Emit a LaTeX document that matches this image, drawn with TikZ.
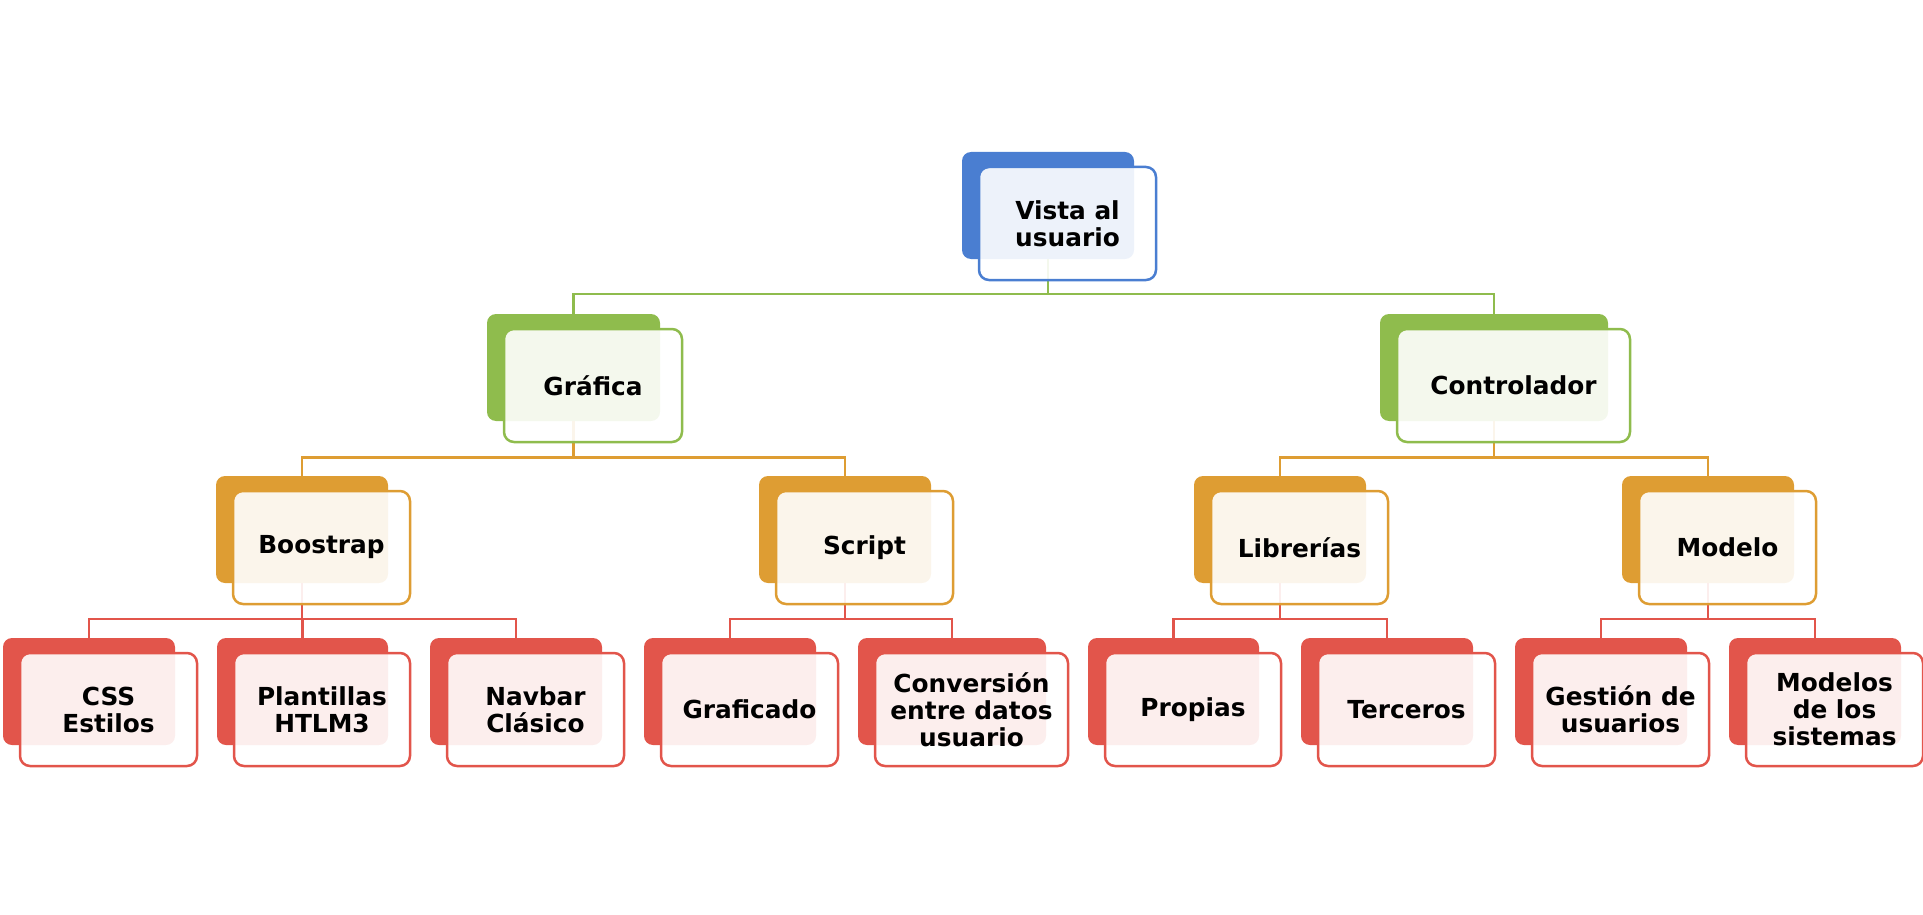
\documentclass[tikz,border=0pt]{standalone}
\usepackage{fontspec}
\setmainfont{DejaVu Sans}
\definecolor{cblue}{HTML}{4A7ED1}
\definecolor{cgreen}{HTML}{8FBC4D}
\definecolor{corange}{HTML}{DE9D33}
\definecolor{cred}{HTML}{E2554B}
\tikzset{
  backbox/.style={draw=none, rounded corners=9pt, minimum height=107pt, inner sep=0pt, outer sep=0pt, anchor=north west},
  frontbox/.style={draw, line width=2.5pt, rounded corners=10pt, fill=white, fill opacity=0.9, text opacity=1,
    minimum height=113pt, inner sep=0pt, outer sep=0pt, anchor=north west, align=center,
    font=\bfseries\fontsize{24.8}{27}\selectfont, text=black},
  conn/.style={line width=2.5pt}
}
\newcommand\BackBox[5]{\node[backbox, fill=#5, minimum width=#4pt] (#1b) at (#2,#3) {};}
\newcommand\FrontBox[4]{\node[frontbox, draw=#3, minimum width=#2pt+5pt] (#1) at ([shift={(17pt,-15pt)}]#1b.north west) {#4};}
\begin{document}
\begin{tikzpicture}[x=1pt,y=-1pt]
\path[use as bounding box] (0,0) rectangle (1923,915);
% back boxes
\BackBox{vista}{962}{152}{172}{cblue}
\BackBox{grafica}{487}{314}{173}{cgreen}
\BackBox{controlador}{1380}{314}{228}{cgreen}
\BackBox{boostrap}{216}{476}{172}{corange}
\BackBox{script}{759}{476}{172}{corange}
\BackBox{librerias}{1194}{476}{172}{corange}
\BackBox{modelo}{1622}{476}{172}{corange}
\BackBox{css}{3}{638}{172}{cred}
\BackBox{plantillas}{217}{638}{171}{cred}
\BackBox{navbar}{430}{638}{172}{cred}
\BackBox{graficado}{644}{638}{172}{cred}
\BackBox{conversion}{858}{638}{188}{cred}
\BackBox{propias}{1088}{638}{171}{cred}
\BackBox{terceros}{1301}{638}{172}{cred}
\BackBox{gestion}{1515}{638}{172}{cred}
\BackBox{modelos}{1729}{638}{172}{cred}
% connectors
\foreach \c in {grafica,controlador}
  \draw[conn, draw=cgreen] (vistab.south) -- (vistab.south |- 0,294) -| (\c b.north);
\foreach \c in {boostrap,script}
  \draw[conn, draw=corange] (graficab.south) -- (graficab.south |- 0,457.5) -| (\c b.north);
\foreach \c in {librerias,modelo}
  \draw[conn, draw=corange] (controladorb.south) -- (controladorb.south |- 0,457.5) -| (\c b.north);
\foreach \c in {css,plantillas,navbar}
  \draw[conn, draw=cred] (boostrapb.south) -- (boostrapb.south |- 0,619) -| (\c b.north);
\foreach \c in {graficado,conversion}
  \draw[conn, draw=cred] (scriptb.south) -- (scriptb.south |- 0,619) -| (\c b.north);
\foreach \c in {propias,terceros}
  \draw[conn, draw=cred] (libreriasb.south) -- (libreriasb.south |- 0,619) -| (\c b.north);
\foreach \c in {gestion,modelos}
  \draw[conn, draw=cred] (modelob.south) -- (modelob.south |- 0,619) -| (\c b.north);
% front boxes
\FrontBox{vista}{172}{cblue}{Vista al\\usuario}
\FrontBox{grafica}{173}{cgreen}{Gráfica}
\FrontBox{controlador}{228}{cgreen}{Controlador}
\FrontBox{boostrap}{172}{corange}{Boostrap}
\FrontBox{script}{172}{corange}{Script}
\FrontBox{librerias}{172}{corange}{Librerías}
\FrontBox{modelo}{172}{corange}{Modelo}
\FrontBox{css}{172}{cred}{CSS\\Estilos}
\FrontBox{plantillas}{171}{cred}{Plantillas\\HTLM3}
\FrontBox{navbar}{172}{cred}{Navbar\\Clásico}
\FrontBox{graficado}{172}{cred}{Graficado}
\FrontBox{conversion}{188}{cred}{Conversión\\entre datos\\usuario}
\FrontBox{propias}{171}{cred}{Propias}
\FrontBox{terceros}{172}{cred}{Terceros}
\FrontBox{gestion}{172}{cred}{Gestión de\\usuarios}
\FrontBox{modelos}{172}{cred}{Modelos\\de los\\sistemas}
\end{tikzpicture}
\end{document}
